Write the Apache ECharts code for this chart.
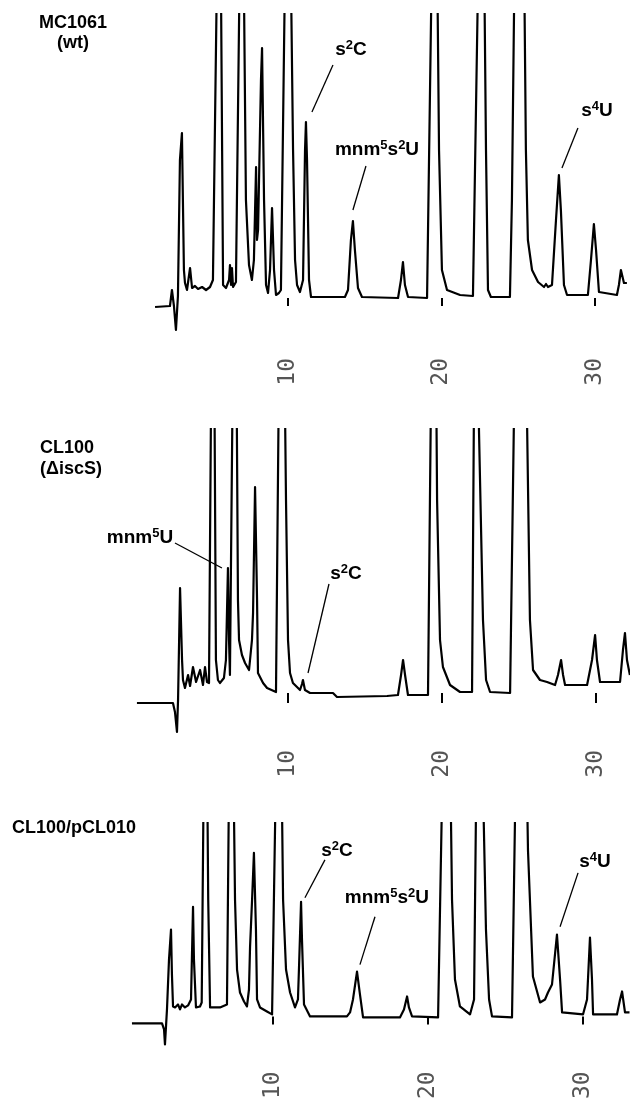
<!DOCTYPE html>
<html>
<head>
<meta charset="utf-8">
<title>HPLC traces</title>
<script src="https://cdn.jsdelivr.net/npm/echarts@6/dist/echarts.min.js"></script>
<style>
  html, body { margin: 0; padding: 0; background: #fff; }
  #chart { width: 630px; height: 1102px; }
</style>
</head>
<body>
<div id="chart"></div>
<script>
// retention time ticks (min)
const timeTicks = [10, 20, 30]

// MC1061 (wt)
const wtTime = [1.34, 2.31, 2.44, 2.57, 2.70, 2.83, 2.96, 3.09, 3.22, 3.29,
  3.42, 3.62, 3.75, 3.94, 4.14, 4.40, 4.66, 4.92, 5.11, 5.54,
  5.77, 5.96, 6.16, 6.22, 6.29, 6.35, 6.42, 6.61, 7.00, 7.26,
  7.46, 7.65, 7.78, 7.92, 7.98, 8.05, 8.24, 8.31, 8.44, 8.57,
  8.70, 8.83, 8.96, 9.09, 9.22, 9.41, 9.54, 10.00, 10.33, 10.46,
  10.59, 10.78, 10.98, 11.11, 11.17, 11.24, 11.37, 11.50, 12.74, 13.71,
  13.91, 14.10, 14.23, 14.36, 14.56, 14.82, 17.17, 17.36, 17.49, 17.62,
  17.82, 19.06, 19.58, 19.84, 20.03, 20.36, 21.21, 22.05, 22.64, 22.90,
  23.03, 23.22, 24.46, 24.59, 25.10, 25.50, 25.63, 25.90, 26.29, 26.68,
  26.81, 26.94, 27.20, 27.46, 27.65, 27.78, 27.98, 28.18, 29.54, 29.74,
  29.93, 30.07, 30.26, 31.43, 31.56, 31.69, 31.89, 32.08]
const wtSignal = [-9, -8, 8, -8, -32, 2, 138, 165, 28, 15,
  8, 30, 10, 12, 9, 11, 8, 11, 18, 520,
  13, 10, 18, 33, 13, 30, 11, 16, 520, 98,
  33, 18, 38, 131, 58, 68, 218, 250, 98, 13,
  5, 28, 90, 28, 3, 5, 8, 560, 148, 38,
  13, 6, 18, 148, 176, 138, 18, 1, 1, 1,
  8, 58, 77, 48, 10, 1, 0, 18, 36, 13,
  1, 0, 560, 148, 28, 8, 3, 2, 560, 148,
  8, 1, 1, 98, 800, 148, 58, 28, 16, 11,
  14, 11, 13, 78, 123, 88, 13, 3, 3, 38,
  74, 48, 6, 3, 13, 28, 15, 15]

// CL100 (ΔiscS)
const iscsTime = [0.19, 2.53, 2.66, 2.79, 2.86, 2.99, 3.12, 3.18, 3.31, 3.51,
  3.64, 3.83, 4.03, 4.29, 4.48, 4.61, 4.74, 4.87, 5.13, 5.32,
  5.45, 5.58, 5.84, 5.97, 6.10, 6.17, 6.23, 6.30, 6.56, 6.75,
  6.82, 7.01, 7.21, 7.47, 7.66, 7.73, 7.86, 7.99, 8.05, 8.38,
  8.64, 9.22, 9.58, 9.87, 10.00, 10.13, 10.32, 10.78, 10.91, 10.97,
  11.10, 11.43, 12.92, 13.18, 16.43, 17.14, 17.34, 17.47, 17.60, 17.79,
  19.09, 19.48, 19.68, 19.87, 20.06, 20.52, 21.17, 21.95, 22.21, 22.40,
  22.66, 22.86, 23.12, 24.42, 25.06, 25.52, 25.71, 25.91, 26.36, 26.82,
  27.34, 27.53, 27.73, 27.86, 27.99, 29.42, 29.74, 29.94, 30.06, 30.26,
  31.56, 31.75, 31.88, 32.01, 32.20]
const iscsSignal = [-10, -10, -19, -39, -7, 105, 33, 13, 5, 18,
  7, 26, 11, 23, 8, 26, 11, 10, 560, 33,
  13, 10, 15, 33, 125, 53, 18, 18, 560, 93,
  53, 38, 30, 23, 53, 80, 206, 93, 20, 10,
  5, 1, 600, 193, 53, 20, 10, 3, 9, 13,
  3, 0, 0, -4, -3, -2, 18, 33, 18, -2,
  -2, 600, 193, 53, 26, 8, 1, 1, 600, 263,
  73, 13, 1, 0, 700, 273, 73, 23, 13, 11,
  8, 18, 33, 18, 8, 8, 33, 58, 33, 11,
  11, 43, 60, 33, 18]

// CL100/pCL010
const rescueTime = [0.90, 2.84, 2.97, 3.03, 3.16, 3.29, 3.42, 3.48, 3.55, 3.68,
  3.87, 4.00, 4.13, 4.32, 4.52, 4.71, 4.84, 4.90, 5.03, 5.29,
  5.40, 5.65, 5.82, 5.94, 6.58, 7.03, 7.29, 7.55, 7.68, 7.87,
  8.13, 8.32, 8.45, 8.52, 8.65, 8.77, 8.90, 8.97, 9.16, 9.61,
  9.94, 10.06, 10.40, 10.65, 10.84, 11.10, 11.42, 11.61, 11.68, 11.81,
  11.87, 12.00, 12.39, 14.77, 14.97, 15.16, 15.42, 15.61, 15.81, 18.19,
  18.45, 18.65, 18.77, 18.97, 20.65, 21.23, 21.55, 21.74, 22.06, 22.71,
  22.97, 23.29, 23.55, 23.74, 23.94, 24.13, 25.42, 26.00, 26.45, 26.77,
  27.23, 27.55, 27.74, 28.00, 28.32, 28.52, 28.65, 30.00, 30.26, 30.45,
  30.58, 30.65, 32.19, 32.39, 32.52, 32.71, 33.00]
const rescueSignal = [-7, -7, -13, -28, 7, 57, 87, 42, 10, 9,
  12, 7, 12, 9, 11, 17, 110, 57, 9, 10,
  14, 450, 117, 9, 9, 12, 450, 117, 47, 24,
  15, 10, 27, 70, 117, 164, 87, 17, 9, 5,
  2, 4, 450, 117, 47, 24, 9, 17, 50, 115,
  77, 12, 0, 0, 4, 17, 45, 22, -1, -1,
  7, 20, 9, 0, -1, 500, 117, 37, 10, 2,
  17, 500, 230, 87, 17, 0, -1, 600, 167, 40,
  14, 17, 24, 32, 82, 37, 4, 2, 17, 79,
  37, 2, 2, 17, 25, 4, 4]

// peak labels: text position and leader line, in (min, signal)
const wtNotes = [
  { text: '{t|s}{s|2}{t|C}', at: [14.10, 248], line: [[12.93, 233], [11.56, 186]] },
  { text: '{t|mnm}{s|5}{t|s}{s|2}{t|U}', at: [15.80, 148], line: [[15.08, 132], [14.23, 88]] },
  { text: '{t|s}{s|4}{t|U}', at: [30.13, 187], line: [[28.89, 170], [27.85, 130]] }
]
const iscsNotes = [
  { text: '{t|mnm}{s|5}{t|U}', at: [0.39, 155], line: [[2.66, 150], [5.71, 125]] },
  { text: '{t|s}{s|2}{t|C}', at: [13.77, 119], line: [[12.66, 109], [11.30, 20]] }
]
const rescueNotes = [
  { text: '{t|s}{s|2}{t|C}', at: [14.13, 166], line: [[13.35, 157], [12.06, 119]] },
  { text: '{t|mnm}{s|5}{t|s}{s|2}{t|U}', at: [17.35, 119], line: [[16.58, 100], [15.61, 52]] },
  { text: '{t|s}{s|4}{t|U}', at: [30.77, 155], line: [[29.68, 144], [28.52, 90]] }
]

const panels = [
  { time: wtTime, signal: wtSignal, notes: wtNotes,
    grid: { left: 134.5, top: 14, width: 492.7, height: 324 },
    xMax: 32.1, yMin: -40, yMax: 284, offset: -28, tick: 8, margin: 48 },
  { time: iscsTime, signal: iscsSignal, notes: iscsNotes,
    grid: { left: 134, top: 429, width: 495.9, height: 312 },
    xMax: 32.2, yMin: -48, yMax: 264, offset: -46, tick: 10, margin: 55 },
  { time: rescueTime, signal: rescueSignal, notes: rescueNotes,
    grid: { left: 118, top: 823, width: 511.5, height: 230 },
    xMax: 33, yMin: -36, yMax: 194, offset: -31, tick: 8, margin: 50 }
]

const labelFont = 'Liberation Sans, Arial, sans-serif'
const rich = {
  t: { fontSize: 19, fontWeight: 'bold', fontFamily: labelFont, color: '#000', lineHeight: 22 },
  s: { fontSize: 13, fontWeight: 'bold', fontFamily: labelFont, color: '#000', verticalAlign: 'top', lineHeight: 14 }
}

const chart = echarts.init(document.getElementById('chart'))

chart.setOption({
  backgroundColor: '#fff',
  animation: false,
  grid: panels.map(p => p.grid),
  xAxis: panels.map((p, i) => ({
    type: 'value',
    gridIndex: i,
    min: 0,
    max: p.xMax,
    offset: p.offset,
    axisLine: { show: false },
    splitLine: { show: false },
    axisTick: {
      show: true,
      customValues: timeTicks,
      length: p.tick,
      lineStyle: { color: '#000', width: 2 }
    },
    axisLabel: {
      show: true,
      customValues: timeTicks,
      rotate: 90,
      margin: p.margin,
      fontFamily: 'DejaVu Sans Mono',
      fontSize: 23,
      color: '#555'
    }
  })),
  yAxis: panels.map((p, i) => ({
    type: 'value',
    gridIndex: i,
    min: p.yMin,
    max: p.yMax,
    show: false
  })),
  series: panels.map((p, i) => ({
    type: 'line',
    xAxisIndex: i,
    yAxisIndex: i,
    data: p.time.map((t, k) => [t, p.signal[k]]),
    showSymbol: false,
    clip: true,
    lineStyle: { color: '#000', width: 2.2, join: 'round' },
    silent: true,
    markPoint: {
      symbol: 'circle',
      symbolSize: 1,
      itemStyle: { color: 'rgba(0,0,0,0)' },
      label: { show: true, position: 'inside', rich: rich },
      data: p.notes.map(n => ({
        coord: n.at,
        label: { formatter: () => n.text }
      }))
    },
    markLine: {
      silent: true,
      symbol: ['none', 'none'],
      label: { show: false },
      lineStyle: { color: '#000', width: 1.3, type: 'solid' },
      data: p.notes.map(n => [{ coord: n.line[0] }, { coord: n.line[1] }])
    }
  })),
  graphic: [
    {
      type: 'text', x: 73, y: 13,
      style: { text: 'MC1061\n(wt)', font: 'bold 18px Liberation Sans', textAlign: 'center', lineHeight: 20, fill: '#000' }
    },
    {
      type: 'text', x: 40, y: 438,
      style: { text: 'CL100\n(\u0394iscS)', font: 'bold 18px Liberation Sans', textAlign: 'left', lineHeight: 21, fill: '#000' }
    },
    {
      type: 'text', x: 12, y: 819,
      style: { text: 'CL100/pCL010', font: 'bold 18px Liberation Sans', textAlign: 'left', fill: '#000' }
    }
  ]
})
</script>
</body>
</html>
